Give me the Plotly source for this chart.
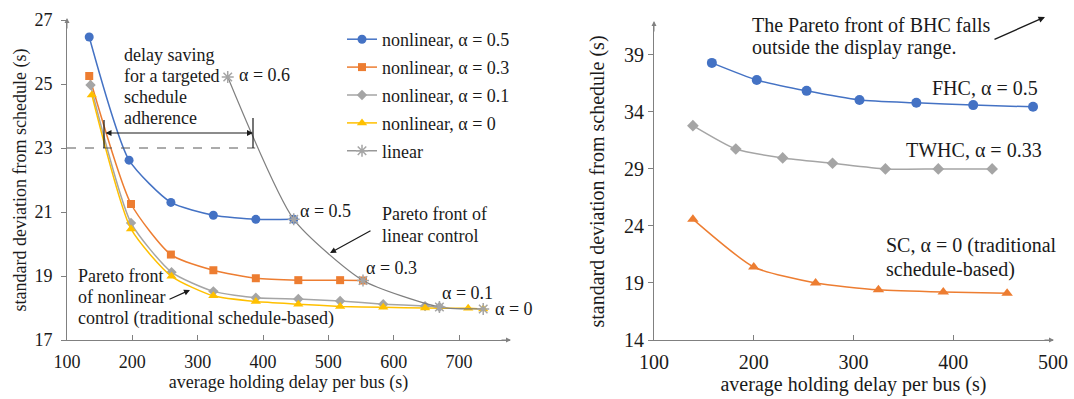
import plotly.graph_objects as go

W, H = 1074, 399
def PX(x): return x / W
def PY(y): return 1 - y / H

# ---------------- data (left panel) ----------------
nl05_x = [134, 195, 259, 324, 389, 447]
nl05_y = [26.47, 22.62, 21.30, 20.90, 20.77, 20.77]
nl03_x = [134, 198, 259, 324, 389, 454, 518, 553]
nl03_y = [25.25, 21.25, 19.67, 19.18, 18.93, 18.87, 18.87, 18.86]
nl01_x = [136, 198, 260, 324, 389, 454, 518, 584, 648, 670]
nl01_y = [24.97, 20.66, 19.12, 18.52, 18.32, 18.28, 18.22, 18.12, 18.06, 18.03]
nl0_x = [138, 198, 260, 324, 389, 454, 518, 584, 648, 714, 737]
nl0_y = [24.66, 20.47, 18.99, 18.38, 18.20, 18.12, 18.05, 18.02, 18.00, 17.99, 17.97]
lin_x = [346, 447, 553, 670, 737]
lin_y = [25.22, 20.77, 18.86, 18.03, 17.97]

# ---------------- data (right panel) ----------------
fhc_x = [158, 203, 253, 306, 363, 420, 480]
fhc_y = [38.3, 36.8, 35.85, 35.05, 34.8, 34.6, 34.45]
twhc_x = [139, 182, 229, 279, 332, 385, 439]
twhc_y = [32.8, 30.75, 29.97, 29.5, 29.0, 29.0, 29.0]
sc_x = [139, 200, 262, 325, 390, 454]
sc_y = [24.6, 20.4, 19.0, 18.4, 18.2, 18.1]

left_xticks = [100, 200, 300, 400, 500, 600, 700]
left_yticks = [17, 19, 21, 23, 25, 27]
right_xticks = [100, 200, 300, 400, 500]
right_yticks = [14, 19, 24, 29, 34, 39]

BLUE, ORANGE, GRAY, YELLOW = "#4472C4", "#ED7D31", "#A5A5A5", "#FFC000"
FONT = "'Liberation Serif', 'Times New Roman', Times, serif"
TXT = "#1a1a1a"
AX = "#808080"

fig = go.Figure()

def add(x, y, name, color, symbol, size, xa="x", ya="y", show=True, lw=1.5, lcolor=None, sm=0.6):
    fig.add_trace(go.Scatter(
        x=x, y=y, name=name, mode="lines+markers", xaxis=xa, yaxis=ya,
        legendgroup=name,
        line=dict(color=lcolor or color, width=lw, shape="spline", smoothing=sm),
        marker=dict(color=color, symbol=symbol, size=size,
                    line=dict(color=color, width=1.5 if "open" in symbol else 0)),
        showlegend=show))

add(nl05_x, nl05_y, "nonlinear, α = 0.5", BLUE, "circle", 9)
add(nl03_x, nl03_y, "nonlinear, α = 0.3", ORANGE, "square", 8)
add(nl01_x, nl01_y, "nonlinear, α = 0.1", GRAY, "diamond", 8)
add(nl0_x, nl0_y, "nonlinear, α = 0", YELLOW, "triangle-up", 9)
add(lin_x, lin_y, "linear", GRAY, "asterisk-open", 10, lw=1.2, lcolor="#7F7F7F")

add(fhc_x, fhc_y, "FHC", BLUE, "circle", 10, "x2", "y2", False)
add(twhc_x, twhc_y, "TWHC", GRAY, "diamond", 9, "x2", "y2", False)
add(sc_x, sc_y, "SC", ORANGE, "triangle-up", 10, "x2", "y2", False)

axis_common = dict(showline=True, linecolor=AX, linewidth=1, showgrid=False, zeroline=False,
                   ticks="outside", ticklen=5, tickcolor=AX, mirror=False, automargin=False)

fig.update_layout(
    width=W, height=H, margin=dict(l=0, r=0, t=0, b=0, autoexpand=False),
    paper_bgcolor="white", plot_bgcolor="white",
    font=dict(family=FONT, size=18, color=TXT),
    xaxis=dict(**{**axis_common, "ticks": "inside"}, domain=[PX(67), PX(510)], range=[100, 778],
               tickvals=left_xticks, tickfont=dict(size=18, family=FONT), ticklabelstandoff=5,
               title=dict(text="average holding delay per bus (s)", font=dict(size=18, family=FONT), standoff=4),
               anchor="y"),
    yaxis=dict(**axis_common, domain=[PY(340), PY(20)], range=[17, 27], tickvals=left_yticks,
               tickfont=dict(size=18, family=FONT), ticklabelstandoff=5,
               title=dict(text="standard deviation from schedule (s)", font=dict(size=18, family=FONT), standoff=3),
               anchor="x"),
    xaxis2=dict(**{**axis_common, "ticks": "inside"}, domain=[PX(654), PX(1053)], range=[100, 500],
                tickvals=right_xticks, tickfont=dict(size=20, family=FONT), ticklabelstandoff=4,
                title=dict(text="average holding delay per bus (s)", font=dict(size=20, family=FONT), standoff=0),
                anchor="y2"),
    yaxis2=dict(**axis_common, domain=[PY(340), PY(23)], range=[14, 41.8], tickvals=right_yticks,
                tickfont=dict(size=20, family=FONT),
                title=dict(text="standard deviation from schedule (s)", font=dict(size=20, family=FONT), standoff=14),
                anchor="x2"),
    legend=dict(x=PX(342), y=PY(21), xanchor="left", yanchor="top", bgcolor="rgba(0,0,0,0)",
                font=dict(size=18, color=TXT, family=FONT), itemwidth=30, tracegroupgap=1.5,
                traceorder="grouped"),
)

ann = []
def text_lines(lines, x, y0, dy, size, xanchor="left"):
    for i, t in enumerate(lines):
        ann.append(dict(text=t, x=PX(x), y=PY(y0 + i * dy), xref="paper", yref="paper",
                        xanchor=xanchor, yanchor="middle", showarrow=False,
                        font=dict(size=size, color=TXT, family=FONT)))

def arrow(x0, y0, x1, y1, color="#1a1a1a", head=2, width=1.2, side="end"):
    ann.append(dict(text="", x=PX(x1), y=PY(y1), xref="paper", yref="paper",
                    ax=x0 - x1, ay=y0 - y1, axref="pixel", ayref="pixel", showarrow=True,
                    arrowhead=head, arrowsize=1, arrowwidth=width, arrowcolor=color,
                    arrowside=side))

# left panel labels
text_lines(["delay saving", "for a targeted", "schedule", "adherence"], 122, 55, 21, 18)
text_lines(["α = 0.6"], 237, 75, 0, 18)
text_lines(["α = 0.5"], 298, 211, 0, 18)
text_lines(["Pareto front of", "linear control"], 380, 214, 22, 18)
text_lines(["α = 0.3"], 364, 268, 0, 18)
text_lines(["α = 0.1"], 440, 293, 0, 18)
text_lines(["α = 0"], 493, 309, 0, 18)
text_lines(["Pareto front", "of nonlinear", "control (traditional schedule-based)"], 76, 276, 21, 18)
arrow(372, 230, 330, 253)
arrow(168, 300, 190, 290)
# double arrow for delay saving
arrow(104, 133, 253, 133, side="end+start", width=1.2)
# axis arrowheads
arrow(500, 340, 511, 340, color=AX, head=2, width=1)
arrow(67, 30, 67, 18, color=AX, head=2, width=1)
arrow(1043, 340, 1054, 340, color=AX, head=2, width=1)
arrow(654, 33, 654, 21, color=AX, head=2, width=1)

# right panel labels
text_lines(["The Pareto front of BHC falls", "outside the display range."], 750, 25, 22, 20)
arrow(993, 40, 1045, 17, width=1.3)
text_lines(["FHC, α = 0.5"], 1040, 88, 0, 20, xanchor="right")
text_lines(["TWHC, α = 0.33"], 1044, 150, 0, 20, xanchor="right")
text_lines(["SC, α = 0 (traditional", "schedule-based)"], 884, 245, 24, 20)

fig.update_layout(annotations=ann)

# shapes: dashed target line and bars
fig.add_shape(type="line", xref="x", yref="y", x0=100, x1=388, y0=23, y1=23,
              line=dict(color="#595959", width=1, dash="dash"))
fig.add_shape(type="line", xref="paper", yref="paper", x0=PX(104), x1=PX(104), y0=PY(120), y1=PY(148),
              line=dict(color="#1a1a1a", width=1.2))
fig.add_shape(type="line", xref="paper", yref="paper", x0=PX(253), x1=PX(253), y0=PY(118), y1=PY(148),
              line=dict(color="#1a1a1a", width=1.2))

fig.write_html("out.html", config={"displayModeBar": False},
               post_script="document.body.style.margin='0px';document.body.style.overflow='hidden';")
